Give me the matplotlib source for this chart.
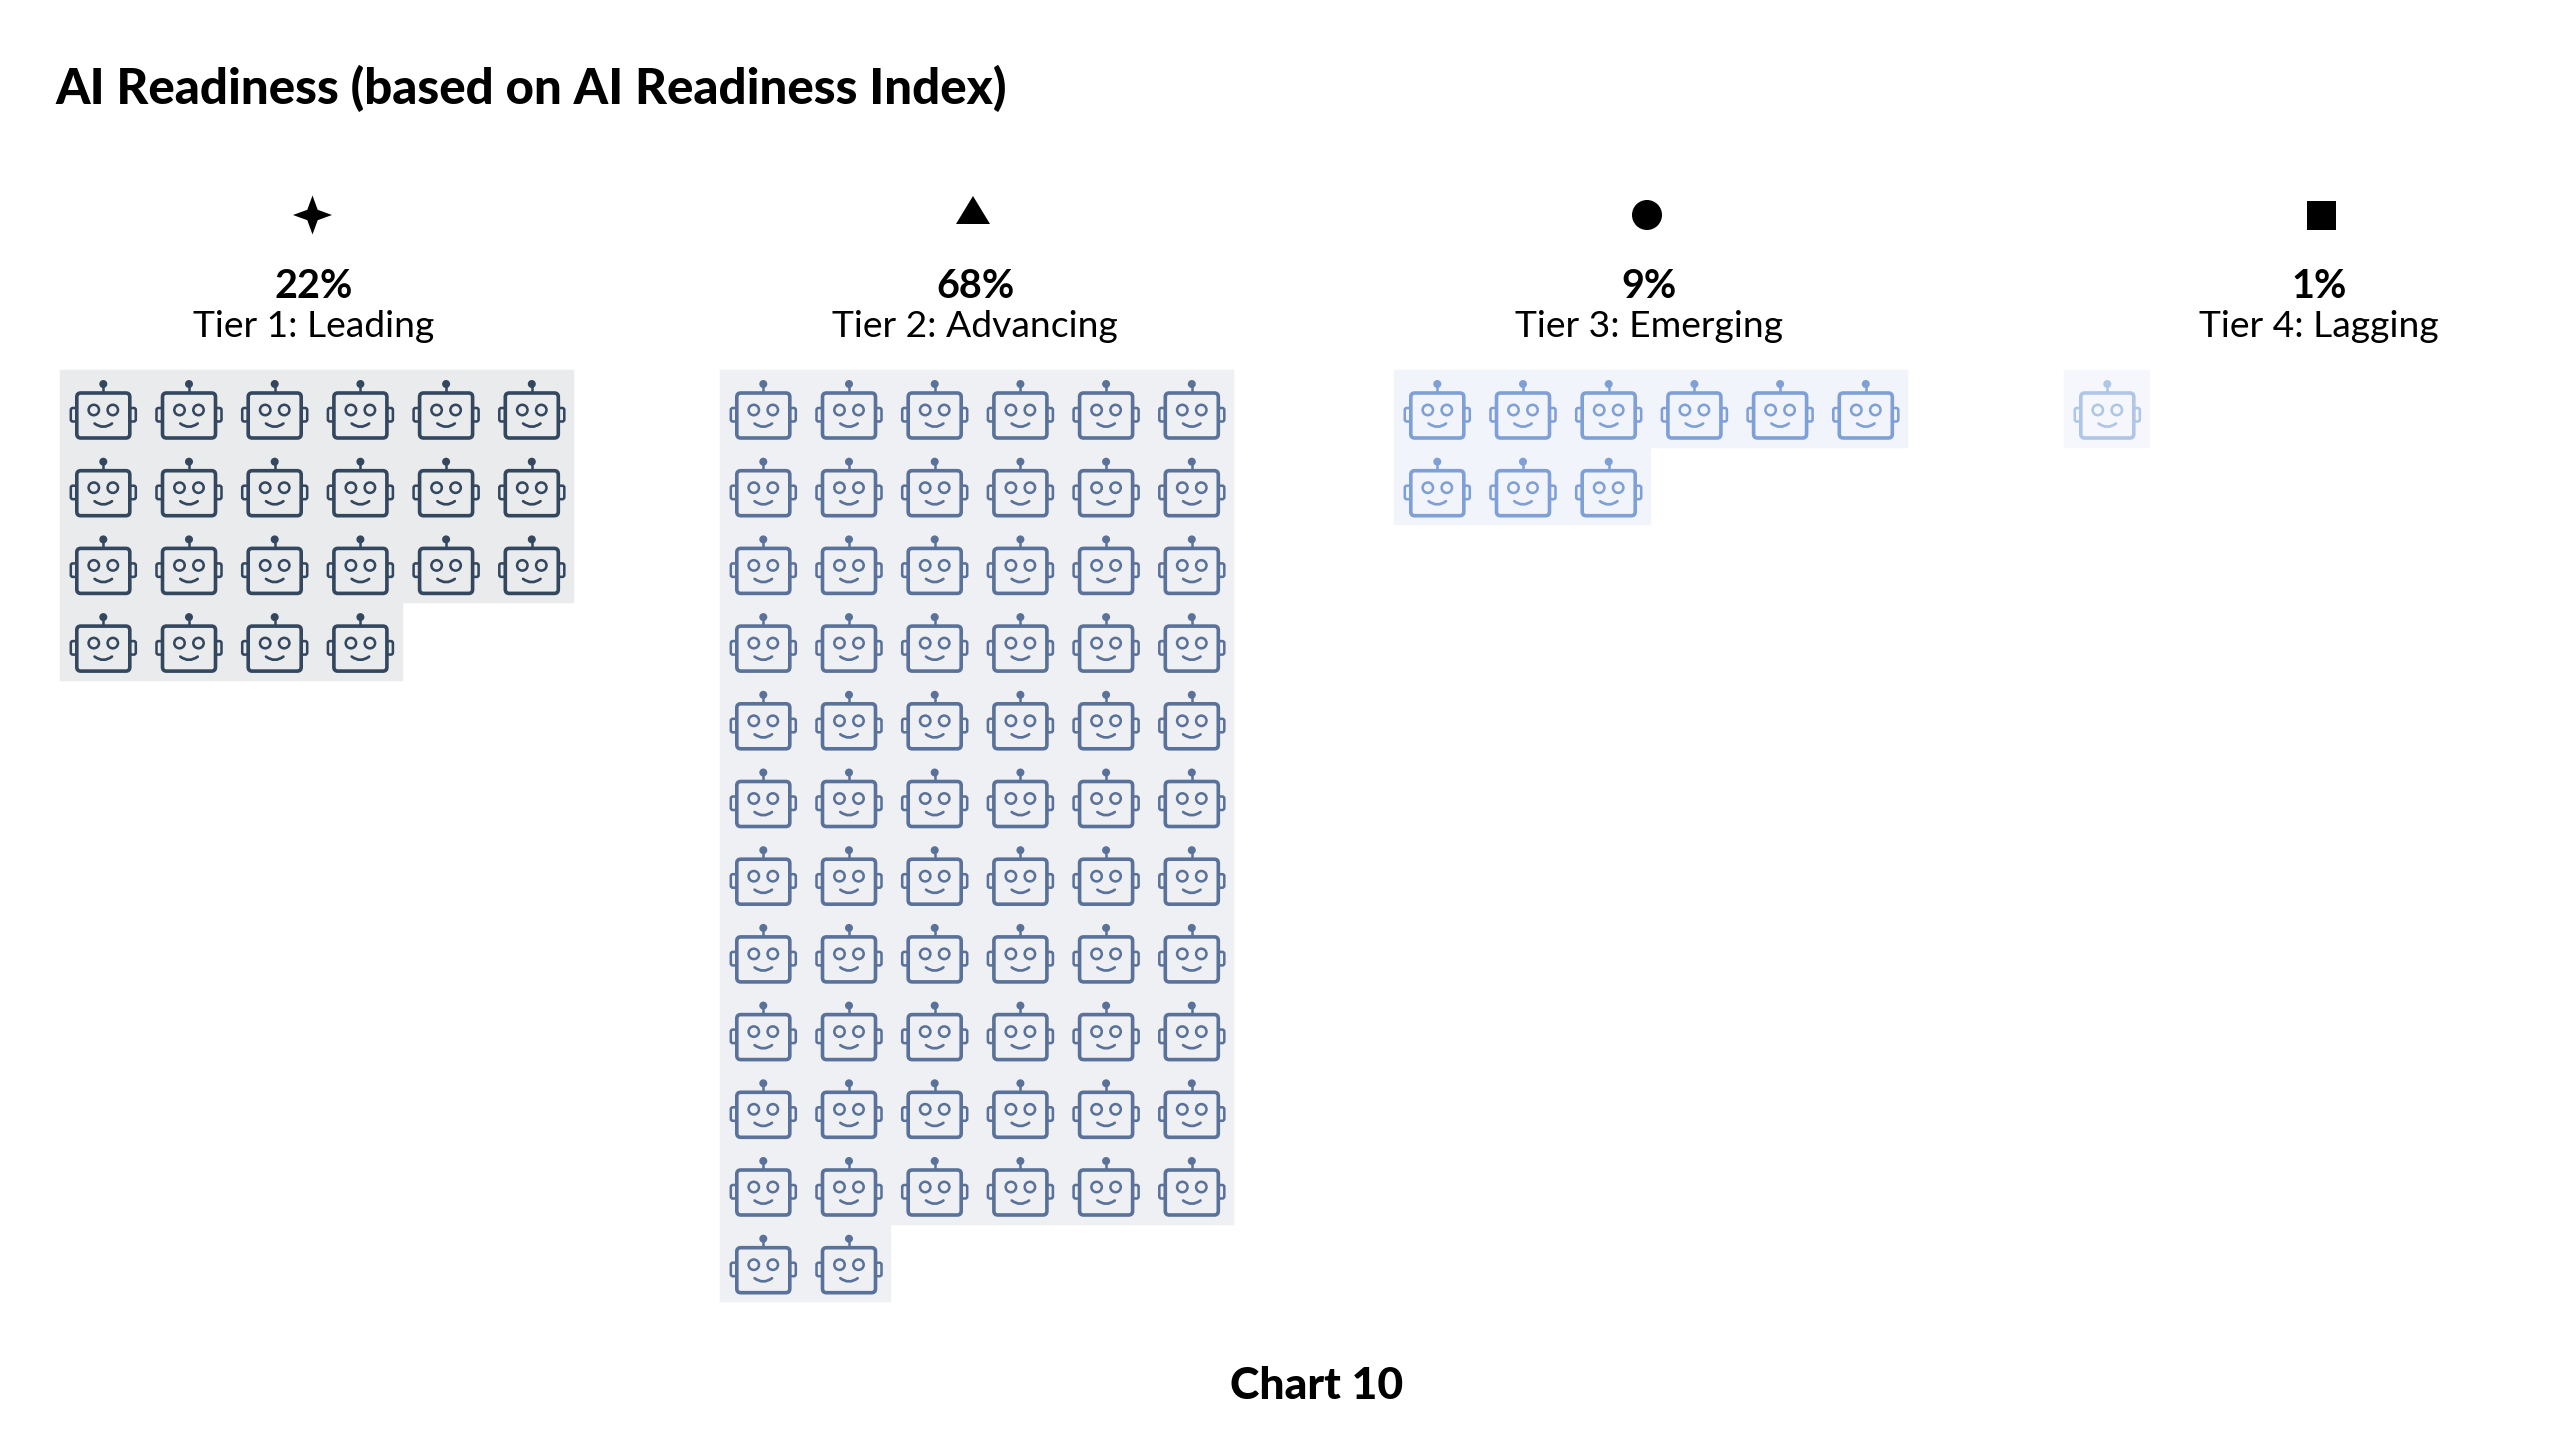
import matplotlib
matplotlib.use("Agg")
import matplotlib.pyplot as plt
from matplotlib.patches import Circle, FancyBboxPatch, PathPatch, Rectangle
from matplotlib.path import Path

plt.rcParams["font.family"] = ["Lato", "DejaVu Sans"]

TITLE    = "AI Readiness (based on AI Readiness Index)"
FOOTER   = "Chart 10"
TIERS    = ["Tier 1: Leading", "Tier 2: Advancing", "Tier 3: Emerging", "Tier 4: Lagging"]
PERCENTS = [22, 68, 9, 1]

BG_COLORS   = ["#E9EBED", "#EEF0F4", "#F1F4FA", "#F5F7FC"]
ICON_COLORS = ["#33475F", "#5A7299", "#7FA0D6", "#AFC6E6"]

GRID_LEFT  = [60, 720, 1394, 2064]
TEXT_X     = [314, 975, 1649, 2319]
SYMBOL_X   = [312.5, 973, 1647, 2321.5]
GRID_TOP   = 370
CELL_W     = 85.7
CELL_H     = 77.7
PER_ROW    = 6


def draw_robot(ax, x0, y0, color, bg):
    cx = x0 + 43.3
    lw = 2.6
    # ears sit behind the head
    for side in (-1, 1):
        left = cx - 32.5 if side < 0 else cx + 26.5
        ax.add_patch(FancyBboxPatch((left, y0 + 38), 6, 13.5,
                                    boxstyle="round,pad=0,rounding_size=2",
                                    fc=bg, ec=color, lw=lw * 0.7, zorder=3))
    ax.add_patch(FancyBboxPatch((cx - 26.5, y0 + 23), 53, 45,
                                boxstyle="round,pad=0,rounding_size=4",
                                fc=bg, ec=color, lw=lw, zorder=4))
    # antenna
    ax.plot([cx, cx], [y0 + 15, y0 + 23], color=color, lw=1.8, zorder=3)
    ax.add_patch(Circle((cx, y0 + 14), 4, fc=color, ec="none", zorder=5))
    # eyes
    for side in (-1, 1):
        ax.add_patch(Circle((cx + side * 9.5, y0 + 40), 5.2, fc="none", ec=color,
                            lw=lw * 0.7, zorder=5))
    # smile
    smile = Path([(cx - 8.7, y0 + 53.5), (cx, y0 + 60), (cx + 8.7, y0 + 53.5)],
                 [Path.MOVETO, Path.CURVE3, Path.CURVE3])
    ax.add_patch(PathPatch(smile, fc="none", ec=color, lw=lw * 0.75, capstyle="round", zorder=5))


def draw_grid(ax, left, count, color, bg):
    for i in range(count):
        row, col = divmod(i, PER_ROW)
        x0 = left + col * CELL_W
        y0 = GRID_TOP + row * CELL_H
        ax.add_patch(Rectangle((x0, y0), CELL_W, CELL_H, fc=bg, ec=bg, lw=0.3, zorder=1))
        draw_robot(ax, x0, y0, color, bg)


def draw_star(ax, cx, cy, r=19.5, k=5.2):
    verts = [(cx, cy - r), (cx + k, cy - k), (cx + r, cy), (cx + k, cy + k),
             (cx, cy + r), (cx - k, cy + k), (cx - r, cy), (cx - k, cy - k), (cx, cy - r)]
    ax.add_patch(PathPatch(Path(verts), fc="black", ec="none"))


def draw_triangle(ax, cx):
    ax.add_patch(PathPatch(Path([(cx - 17, 224), (cx + 17, 224), (cx, 196), (cx - 17, 224)]),
                           fc="black", ec="none"))


def main():
    fig = plt.figure(figsize=(25.6, 14.39), dpi=100, facecolor="white")
    ax = fig.add_axes([0, 0, 1, 1])
    ax.set_xlim(0, 2560)
    ax.set_ylim(1439, 0)
    ax.axis("off")

    ax.text(55, 104, TITLE, fontsize=35.5, fontweight="black", va="baseline", ha="left", color="black")
    ax.text(1317, 1399, FOOTER, fontsize=32, fontweight="black", va="baseline", ha="center", color="black")

    draw_star(ax, SYMBOL_X[0], 215)
    draw_triangle(ax, SYMBOL_X[1])
    ax.add_patch(Circle((SYMBOL_X[2], 215), 15, fc="black", ec="none"))
    ax.add_patch(Rectangle((SYMBOL_X[3] - 14.5, 201), 29, 29, fc="black", ec="none"))

    for i, tier in enumerate(TIERS):
        ax.text(TEXT_X[i], 298.5, f"{PERCENTS[i]}%", fontsize=28.5, fontweight="bold",
                va="baseline", ha="center", color="black")
        ax.text(TEXT_X[i], 337, tier, fontsize=26.8, va="baseline", ha="center", color="black")
        draw_grid(ax, GRID_LEFT[i], PERCENTS[i], ICON_COLORS[i], BG_COLORS[i])

    fig.savefig("out.png", dpi=100)


if __name__ == "__main__":
    main()
